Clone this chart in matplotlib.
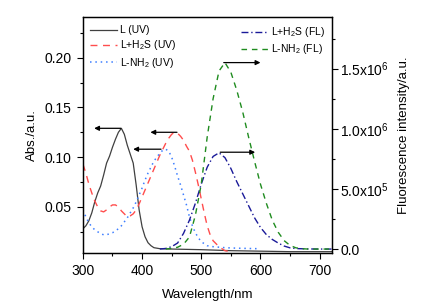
import matplotlib
matplotlib.use("Agg")
import matplotlib.pyplot as plt
from matplotlib.ticker import MultipleLocator, FixedLocator, FixedFormatter

plt.rcParams['font.family'] = ['Liberation Sans', 'DejaVu Sans']
plt.rcParams['mathtext.fontset'] = 'custom'
plt.rcParams['mathtext.rm'] = 'Liberation Sans'
plt.rcParams['mathtext.it'] = 'Liberation Sans:italic'
plt.rcParams['mathtext.bf'] = 'Liberation Sans:bold'

# UV absorption (left axis)
wl_L = [300, 305, 310, 315, 320, 325, 330, 335, 340, 345, 350, 355, 360, 365, 370,
        375, 380, 385, 390, 395, 400, 405, 410, 415, 420, 430, 440, 460, 500, 550,
        600, 650, 700, 720]
abs_L = [0.028, 0.031, 0.036, 0.044, 0.055, 0.064, 0.071, 0.082, 0.094, 0.101, 0.110,
         0.118, 0.125, 0.129, 0.123, 0.112, 0.103, 0.094, 0.072, 0.047, 0.030, 0.020,
         0.014, 0.011, 0.009, 0.008, 0.0078, 0.0075, 0.007, 0.006, 0.0055, 0.005,
         0.005, 0.005]

wl_LH2S = [300, 305, 310, 315, 320, 325, 330, 335, 340, 345, 350, 355, 360, 365, 370,
           375, 380, 385, 390, 395, 400, 405, 410, 415, 420, 425, 430, 435, 440, 445,
           450, 455, 460, 465, 470, 475, 480, 485, 490, 495, 500, 505, 510, 515, 520,
           525, 530, 535, 540, 550]
abs_LH2S = [0.093, 0.084, 0.073, 0.064, 0.056, 0.050, 0.046, 0.045, 0.047, 0.050,
            0.052, 0.052, 0.050, 0.046, 0.043, 0.040, 0.041, 0.043, 0.047, 0.053,
            0.060, 0.067, 0.074, 0.081, 0.088, 0.095, 0.102, 0.108, 0.114, 0.119,
            0.123, 0.125, 0.124, 0.121, 0.117, 0.111, 0.106, 0.097, 0.085, 0.072,
            0.058, 0.044, 0.031, 0.022, 0.016, 0.013, 0.010, 0.008, 0.006, 0.005]

wl_LNH2 = [300, 305, 310, 315, 320, 325, 330, 335, 340, 345, 350, 355, 360, 365, 370,
           375, 380, 385, 390, 395, 400, 405, 410, 415, 420, 425, 430, 435, 440, 445,
           450, 455, 460, 465, 470, 475, 480, 485, 490, 495, 500, 510, 520, 540, 560,
           595]
abs_LNH2 = [0.047, 0.040, 0.034, 0.030, 0.027, 0.025, 0.023, 0.022, 0.022, 0.023,
            0.024, 0.026, 0.028, 0.031, 0.035, 0.039, 0.044, 0.049, 0.055, 0.062,
            0.069, 0.077, 0.084, 0.090, 0.096, 0.100, 0.104, 0.107, 0.108, 0.106,
            0.100, 0.091, 0.081, 0.072, 0.062, 0.052, 0.040, 0.031, 0.024, 0.019,
            0.015, 0.011, 0.010, 0.009, 0.0085, 0.008]

# Fluorescence (right axis)
wl_fl_H2S = [430, 440, 450, 460, 470, 480, 490, 500, 510, 520, 530, 540, 550, 560, 570,
             580, 590, 600, 610, 620, 630, 640, 650, 660, 680, 700, 720]
fl_H2S = [0, 5e3, 2e4, 5e4, 1.3e5, 2.4e5, 3.8e5, 5.4e5, 6.8e5, 7.7e5, 8.0e5, 7.6e5,
          6.7e5, 5.6e5, 4.6e5, 3.6e5, 2.6e5, 1.8e5, 1.2e5, 8e4, 5e4, 2.5e4, 1e4, 4e3,
          1e3, 0, 0]

wl_fl_NH2 = [440, 450, 460, 470, 480, 490, 500, 510, 520, 530, 540, 550, 560, 570, 580,
             590, 600, 610, 620, 630, 640, 650, 660, 670, 680, 700, 720]
fl_NH2 = [0, 5e3, 1.5e4, 4e4, 1e5, 2.8e5, 5.4e5, 9.3e5, 1.25e6, 1.48e6, 1.55e6, 1.47e6,
          1.32e6, 1.14e6, 9.3e5, 7.3e5, 5.4e5, 3.8e5, 2.4e5, 1.4e5, 7e4, 3e4, 1e4, 3e3,
          0, 0, 0]

# arrows: (x_from, x_to, y)
uv_arrows = [(364, 319, 0.129), (459, 414, 0.125), (432, 385, 0.108)]
fl_arrows = [(538, 600, 1.55e6), (532, 591, 8.05e5)]

fl_ticks = [0, 5e5, 1e6, 1.5e6]
fl_ticklabels = ['0.0', r'5.0x10$^5$', r'1.0x10$^6$', r'1.5x10$^6$']

fig = plt.figure(figsize=(4.23, 3.07), dpi=100)
ax = fig.add_axes([0.196, 0.177, 0.589, 0.768])
ax2 = ax.twinx()

ax.plot(wl_L, abs_L, color='#404040', lw=0.9, label='L (UV)')
ax.plot(wl_LH2S, abs_LH2S, color='#ff4d4d', lw=1.0, ls=(0, (5, 4)), label=r'L+H$_2$S (UV)')
ax.plot(wl_LNH2, abs_LNH2, color='#3d7eff', lw=1.1, ls=(0, (1, 2.5)), label=r'L-NH$_2$ (UV)')

ax2.plot(wl_fl_H2S, fl_H2S, color='#1a1a99', lw=1.0, ls=(0, (5, 2, 1, 2)), label=r'L+H$_2$S (FL)')
ax2.plot(wl_fl_NH2, fl_NH2, color='#1f8c1f', lw=1.0, ls=(0, (4, 3.5)), label=r'L-NH$_2$ (FL)')

arrow_kw = dict(arrowstyle='-|>', color='k', lw=0.9, mutation_scale=7, shrinkA=0, shrinkB=0)
for x0, x1, y in uv_arrows:
    ax.annotate('', xy=(x1, y), xytext=(x0, y), arrowprops=arrow_kw)
for x0, x1, y in fl_arrows:
    ax2.annotate('', xy=(x1, y), xytext=(x0, y), arrowprops=arrow_kw)

ax.set_xlim(300, 721)
ax.set_ylim(0.004, 0.241)
ax2.set_ylim(-3e4, 1.93e6)

ax.xaxis.set_major_locator(MultipleLocator(100))
ax.xaxis.set_minor_locator(MultipleLocator(50))
ax.yaxis.set_major_locator(FixedLocator([0.05, 0.10, 0.15, 0.20]))
ax.yaxis.set_minor_locator(FixedLocator([0.025, 0.075, 0.125, 0.175, 0.225]))
ax.yaxis.set_major_formatter(FixedFormatter(['0.05', '0.10', '0.15', '0.20']))
ax2.yaxis.set_major_locator(FixedLocator(fl_ticks))
ax2.yaxis.set_major_formatter(FixedFormatter(fl_ticklabels))
ax2.yaxis.set_minor_locator(FixedLocator([2.5e5, 7.5e5, 1.25e6, 1.75e6]))

for a in (ax, ax2):
    a.tick_params(which='major', direction='out', length=4.5, width=0.8, labelsize=10)
    a.tick_params(which='minor', direction='out', length=2.5, width=0.8)
    for s in a.spines.values():
        s.set_linewidth(0.9)
ax2.tick_params(which='major', pad=1.5)

ax.set_xlabel('Wavelength/nm', fontsize=9.5, labelpad=8)
ax.set_ylabel('Abs./a.u.', fontsize=9.5, labelpad=5)
ax2.set_ylabel('Fluorescence intensity/a.u.', fontsize=9.5, labelpad=6)

ax.legend(loc='upper left', bbox_to_anchor=(0.0, 0.995), frameon=False, fontsize=7.5,
          handlelength=2.6, handletextpad=0.3, labelspacing=0.3, borderaxespad=0.3)
ax2.legend(loc='upper right', bbox_to_anchor=(1.0, 0.995), frameon=False, fontsize=7.5,
           handlelength=2.6, handletextpad=0.3, labelspacing=0.3, borderaxespad=0.3)

fig.savefig('out.png', dpi=100)
